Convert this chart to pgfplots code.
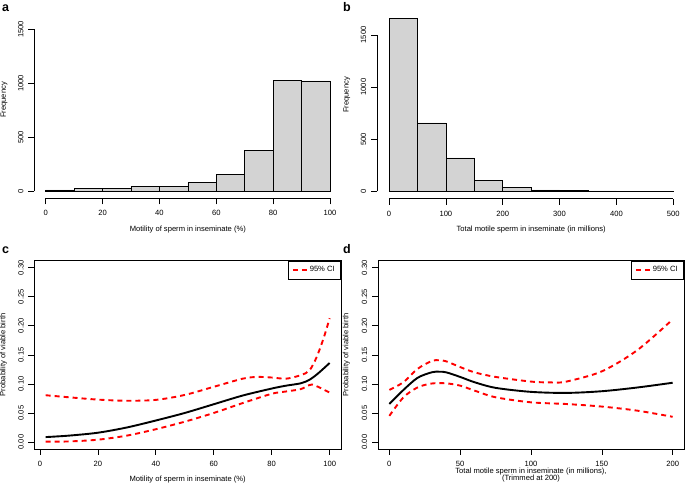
\documentclass[border=0pt]{standalone}
\usepackage{fontspec}
\setmainfont{Liberation Sans}
\usepackage{pgfplots}
\pgfplotsset{compat=1.18}
\definecolor{lgray}{HTML}{D3D3D3}
\newcommand{\fs}{\fontsize{7.6}{9}\selectfont}
\pgfplotsset{
  rbase/.style={
    scale only axis,
    axis line style={line width=0.6pt, black, -},
    tick style={line width=0.6pt, black},
    tick align=outside,
    major tick length=6pt,
    xtick pos=bottom, ytick pos=left,
    /pgf/number format/assume math mode=true,
    /pgf/number format/1000 sep={},
    scaled ticks=false,
    xticklabel style={font=\fs, inner sep=0pt, anchor=north, yshift=-6pt},
    yticklabel style={font=\fs, rotate=90, anchor=south, inner sep=0pt, yshift=4.5pt},
  },
  rhist/.style={rbase, axis x line*=bottom, axis y line*=left, clip=false},
  rbox/.style={rbase, axis lines=box,
    legend style={at={(1,1)}, anchor=north east, draw=black, line width=0.6pt, font=\fs,
      inner xsep=4pt, inner ysep=3.5pt, legend cell align=left},
    legend image code/.code={\draw[##1] (0pt,0pt) -- (14pt,0pt);},
  },
  ci/.style={red, line width=1.9pt, dash pattern=on 5pt off 4pt, smooth},
  est/.style={black, line width=1.9pt, smooth},
}
\begin{document}
\begin{tikzpicture}
% panel a
\begin{axis}[rhist, at={(45.7pt,292.7pt)}, anchor=south west,
  width=284.3pt, height=162pt,
  axis x line shift=7pt, axis y line shift=11.5pt,
  xmin=0, xmax=100, ymin=0, ymax=1500,
  xtick={0,20,40,60,80,100}, ytick={0,500,1000,1500},
  xlabel={Motility of sperm in inseminate (\%)}, ylabel={Frequency},
  xlabel style={at={([yshift=-38.7pt]axis description cs:0.5,0)}, anchor=center, font=\fs},
  ylabel style={at={([xshift=-41.7pt]axis description cs:0,0.5636)}, anchor=center, font=\fs}]
\addplot[ybar interval, fill=lgray, draw=black, line width=0.6pt] coordinates {
(0,12)(10,25)(20,28)(30,43)(40,49)(50,80)(60,154)(70,380)(80,1028)(90,1022)(100,0)};
\end{axis}
% panel b
\begin{axis}[rhist, at={(389pt,292.7pt)}, anchor=south west,
  width=284.3pt, height=156.3pt,
  axis x line shift=7.4pt, axis y line shift=12pt,
  xmin=0, xmax=500, ymin=0, ymax=1500,
  xtick={0,100,200,300,400,500}, ytick={0,500,1000,1500},
  xlabel={Total motile sperm in inseminate (in millions)}, ylabel={Frequency},
  xlabel style={at={([yshift=-38.7pt]axis description cs:0.5,0)}, anchor=center, font=\fs},
  ylabel style={at={([xshift=-42.3pt]axis description cs:0,0.616)}, anchor=center, font=\fs}]
\addplot[ybar interval, fill=lgray, draw=black, line width=0.6pt] coordinates {
(0,1663)(50,657)(100,321)(150,106)(200,38)(250,13)(300,5)(350,4)(400,1)(450,1)(500,0)};
\end{axis}
% panel c
\begin{axis}[rbox, at={(34.3pt,35pt)}, anchor=south west,
  width=306.7pt, height=188.3pt,
  xmin=-1.92, xmax=103.92, ymin=-0.012, ymax=0.312,
  xtick={0,20,40,60,80,100}, ytick={0,0.05,0.1,0.15,0.2,0.25,0.3},
  yticklabels={0.00,0.05,0.10,0.15,0.20,0.25,0.30},
  xlabel={Motility of sperm in inseminate (\%)}, ylabel={Probability of viable birth},
  xlabel style={at={([yshift=-31pt]axis description cs:0.5,0)}, anchor=center, font=\fs},
  ylabel style={at={([xshift=-30.8pt]axis description cs:0,0.5)}, anchor=center, font=\fs}]
\addplot[ci] coordinates {(2,0.0805)(10,0.077)(20,0.073)(30,0.071)(40,0.0725)(50,0.081)(60,0.095)(70,0.109)(75,0.112)(80,0.111)(85,0.109)(90,0.115)(93,0.123)(95.5,0.146)(98,0.180)(100,0.213)};
\addlegendentry{95\% CI}
\addplot[ci, forget plot] coordinates {(2,0.0006)(10,0.001)(20,0.004)(30,0.011)(40,0.022)(50,0.035)(60,0.050)(70,0.067)(80,0.083)(85,0.087)(90,0.091)(93,0.098)(94,0.099)(96,0.095)(100,0.085)};
\addplot[est, forget plot] coordinates {(2,0.0085)(10,0.011)(20,0.016)(30,0.025)(40,0.037)(50,0.050)(60,0.065)(70,0.080)(80,0.092)(85,0.097)(90,0.101)(93,0.107)(96,0.118)(100,0.136)};
\end{axis}
% panel d
\begin{axis}[rbox, at={(378pt,35pt)}, anchor=south west,
  width=306pt, height=188.3pt,
  xmin=-8, xmax=208, ymin=-0.012, ymax=0.312,
  xtick={0,50,100,150,200}, ytick={0,0.05,0.1,0.15,0.2,0.25,0.3},
  yticklabels={0.00,0.05,0.10,0.15,0.20,0.25,0.30},
  xlabel={Total motile sperm in inseminate (in millions),\\(Trimmed at 200)},
  ylabel={Probability of viable birth},
  xlabel style={at={([yshift=-25.8pt]axis description cs:0.5,0)}, anchor=center, align=center, inner sep=0pt, font=\fontsize{7.6}{7.4}\selectfont},
  ylabel style={at={([xshift=-31.5pt]axis description cs:0,0.5)}, anchor=center, font=\fs}]
\addplot[ci] coordinates {(0,0.0897)(10,0.103)(20,0.126)(30,0.1395)(35,0.1407)(40,0.139)(50,0.129)(60,0.120)(75,0.112)(100,0.104)(115,0.1025)(125,0.104)(150,0.1216)(175,0.158)(200,0.211)};
\addlegendentry{95\% CI}
\addplot[ci, forget plot] coordinates {(0,0.045)(10,0.077)(20,0.094)(30,0.1007)(40,0.101)(50,0.097)(60,0.0886)(75,0.077)(100,0.0683)(125,0.0654)(150,0.061)(175,0.054)(200,0.0434)};
\addplot[est, forget plot] coordinates {(0,0.0654)(10,0.0897)(20,0.1106)(30,0.120)(35,0.121)(40,0.120)(50,0.112)(60,0.103)(75,0.0932)(100,0.0863)(125,0.0845)(150,0.0874)(175,0.0938)(200,0.102)};
\end{axis}
\node[anchor=base west, inner sep=0pt, font=\bfseries\fontsize{12.5}{14}\selectfont] at (2pt,472pt) {a};
\node[anchor=base west, inner sep=0pt, font=\bfseries\fontsize{12.5}{14}\selectfont] at (343pt,472pt) {b};
\node[anchor=base west, inner sep=0pt, font=\bfseries\fontsize{12.5}{14}\selectfont] at (2pt,230.5pt) {c};
\node[anchor=base west, inner sep=0pt, font=\bfseries\fontsize{12.5}{14}\selectfont] at (343pt,230.5pt) {d};
\pgfresetboundingbox
\useasboundingbox (0pt,0pt) rectangle (685pt,484pt);
\end{tikzpicture}
\end{document}
